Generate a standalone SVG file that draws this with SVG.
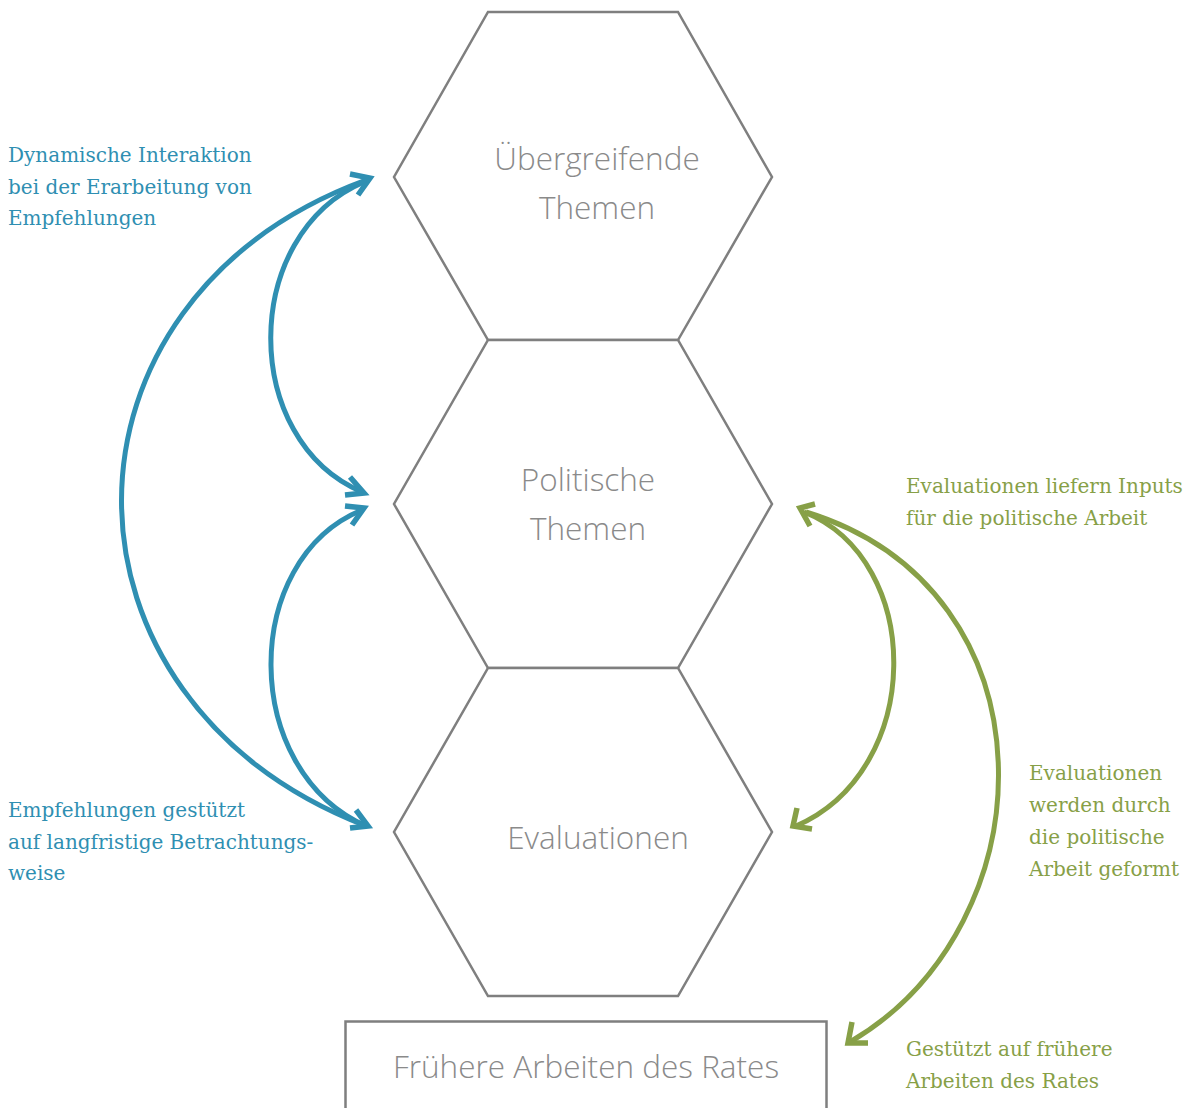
<svg xmlns="http://www.w3.org/2000/svg" width="1203" height="1108" viewBox="0 0 1203 1108">
  <defs>
    <style>
      .hex { fill: #ffffff; stroke: #7f7f7f; stroke-width: 2.5; }
      .node-label { font-family: "Open Sans", "Liberation Sans", sans-serif; font-weight: 300; font-size: 31.5px; fill: #8a8a8a; text-anchor: middle; }
      .note { font-family: "DejaVu Serif", "Liberation Serif", serif; font-size: 20px; }
      .blue-text { fill: #2f8fb2; }
      .green-text { fill: #87a047; }
      .arc { fill: none; stroke-width: 5; stroke-linecap: butt; }
      .blue { stroke: #2f8fb2; }
      .green { stroke: #87a047; }
      .head { fill: none; stroke-width: 5.5; stroke-linejoin: miter; stroke-miterlimit: 10; }
    </style>
  </defs>

  <rect width="1203" height="1108" fill="#ffffff"/>

  <!-- honeycomb column -->
  <g id="node-uebergreifende-themen">
    <polygon class="hex" points="488,12 678,12 772,177 678,340 488,340 394,177"/>
    <text class="node-label" x="597" y="170">Übergreifende</text>
    <text class="node-label" x="597" y="219">Themen</text>
  </g>
  <g id="node-politische-themen">
    <polygon class="hex" points="488,340 678,340 772,504 678,668 488,668 394,504"/>
    <text class="node-label" x="588" y="491">Politische</text>
    <text class="node-label" x="588" y="540">Themen</text>
  </g>
  <g id="node-evaluationen">
    <polygon class="hex" points="488,668 678,668 772,832 678,996 488,996 394,832"/>
    <text class="node-label" x="598" y="849">Evaluationen</text>
  </g>
  <g id="node-fruehere-arbeiten">
    <rect class="hex" x="345.5" y="1021.5" width="481" height="100"/>
    <text class="node-label" x="586" y="1078">Frühere Arbeiten des Rates</text>
  </g>

  <!-- connectors -->
  <g id="connectors">
    <!-- blue: Übergreifende <-> Politische -->
    <path class="arc blue" d="M364,182 C240,235 240,440 362,492"/>
    <polyline class="head blue" points="350,174 370,178 358,195"/>
    <polyline class="head blue" points="350,477 364,493 345,495"/>
    <!-- blue: Politische <-> Evaluationen -->
    <path class="arc blue" d="M362,510 C240,560 240,770 366,826"/>
    <polyline class="head blue" points="345,506 364,508 352,525"/>
    <polyline class="head blue" points="356,810 368,826 350,828"/>
    <!-- blue: Übergreifende <-> Evaluationen -->
    <path class="arc blue" d="M366,180 C40,300 40,700 366,826"/>
    <!-- green: Politische <-> Evaluationen -->
    <path class="arc green" d="M804,512 C925,560 925,770 796,826"/>
    <polyline class="head green" points="815,504 800,508 810,526"/>
    <polyline class="head green" points="797,808 793,826 812,829"/>
    <!-- green: Politische <-> Frühere Arbeiten -->
    <path class="arc green" d="M806,512 C1060,590 1050,925 850,1042"/>
    <polyline class="head green" points="852,1022 848,1043 868,1043"/>
  </g>

  <!-- annotations -->
  <g id="note-dynamische" class="note blue-text">
    <text x="8" y="162">Dynamische Interaktion</text>
    <text x="8" y="194">bei der Erarbeitung von</text>
    <text x="8" y="225">Empfehlungen</text>
  </g>
  <g id="note-langfristig" class="note blue-text">
    <text x="8" y="817">Empfehlungen gestützt</text>
    <text x="8" y="849">auf langfristige Betrachtungs-</text>
    <text x="8" y="880">weise</text>
  </g>
  <g id="note-inputs" class="note green-text">
    <text x="906" y="493">Evaluationen liefern Inputs</text>
    <text x="906" y="525">für die politische Arbeit</text>
  </g>
  <g id="note-geformt" class="note green-text">
    <text x="1029" y="780">Evaluationen</text>
    <text x="1029" y="812">werden durch</text>
    <text x="1029" y="844">die politische</text>
    <text x="1029" y="876">Arbeit geformt</text>
  </g>
  <g id="note-fruehere" class="note green-text">
    <text x="906" y="1056">Gestützt auf frühere</text>
    <text x="906" y="1088">Arbeiten des Rates</text>
  </g>
</svg>
